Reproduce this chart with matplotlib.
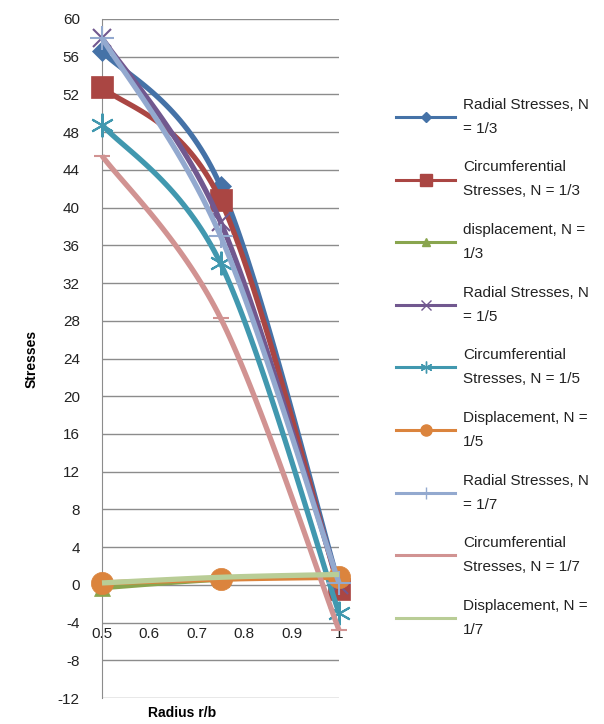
import matplotlib.pyplot as plt
import numpy as np

# Datos
radio = [0.5, 0.75, 1.0]

radial_n3 = [56.6, 42.3, 0.0]
circ_n3 = [52.8, 40.8, -0.4]
disp_n3 = [-0.3, 0.6, 1.0]
radial_n5 = [58.0, 38.5, 0.0]
circ_n5 = [48.8, 34.1, -3.0]
disp_n5 = [0.2, 0.6, 0.8]
radial_n7 = [58.0, 37.0, 0.2]
circ_n7 = [45.5, 28.3, -4.8]
disp_n7 = [0.2, 0.8, 1.1]

etiquetas = [
    "Radial Stresses, N\n= 1/3",
    "Circumferential\nStresses, N = 1/3",
    "displacement, N =\n1/3",
    "Radial Stresses, N\n= 1/5",
    "Circumferential\nStresses, N = 1/5",
    "Displacement, N =\n1/5",
    "Radial Stresses, N\n= 1/7",
    "Circumferential\nStresses, N = 1/7",
    "Displacement, N =\n1/7",
]
series = [radial_n3, circ_n3, disp_n3, radial_n5, circ_n5, disp_n5,
          radial_n7, circ_n7, disp_n7]
colores = ["#4572A7", "#AA4643", "#89A54E", "#71588F", "#4198AF",
           "#DB843D", "#93A9CF", "#D19392", "#B9CD96"]
marcadores = ["D", "s", "^", "x", (6, 2, 0), "o", "+", "_", None]
tam_marc = [10, 16, 11, 13, 17, 16, 17, 11, 0]


# Curva suavizada tipo Excel (Catmull-Rom con tension 1/6)
def suavizar(xs, ys, n=40):
    p = np.column_stack([xs, ys]).astype(float)
    pts = np.vstack([p[0], p, p[-1]])
    salida = []
    for i in range(1, len(pts) - 2):
        p0, p1, p2, p3 = pts[i - 1], pts[i], pts[i + 1], pts[i + 2]
        c1 = p1 + (p2 - p0) / 6
        c2 = p2 - (p3 - p1) / 6
        t = np.linspace(0, 1, n)[:, None]
        b = ((1 - t) ** 3) * p1 + 3 * ((1 - t) ** 2) * t * c1 + 3 * (1 - t) * t ** 2 * c2 + t ** 3 * p2
        salida.append(b)
    r = np.vstack(salida)
    return r[:, 0], r[:, 1]


plt.rcParams['font.family'] = ['Liberation Sans', 'DejaVu Sans']
plt.rcParams['axes.unicode_minus'] = False

fig = plt.figure(figsize=(6.04, 7.24), dpi=100)
ax = fig.add_axes([102 / 604, 1 - 698 / 724, 237 / 604, 679 / 724])

for i in range(len(series)):
    sx, sy = suavizar(radio, series[i])
    ax.plot(sx, sy, color=colores[i], lw=3.8, solid_capstyle='butt',
            zorder=3 + i, clip_on=False)
    if marcadores[i] is not None:
        ax.plot(radio, series[i], linestyle='none', marker=marcadores[i],
                markersize=tam_marc[i], color=colores[i],
                markeredgewidth=1.5 if marcadores[i] in ("x", "+", "_", (6, 2, 0)) else 0.5,
                zorder=3 + i, clip_on=False)
    # entrada de la leyenda
    ax.plot([], [], color=colores[i], lw=2.2,
            marker=marcadores[i] if marcadores[i] is not None else None,
            markersize=max(tam_marc[i] * 0.5, 1), markeredgewidth=1,
            label=etiquetas[i])

ax.set_xlim(0.5, 1.0)
ax.set_ylim(-12, 60)
ax.set_yticks(np.arange(-12, 61, 4))
ax.set_xticks([0.5, 0.6, 0.7, 0.8, 0.9, 1.0])
ax.set_xticklabels(["0.5", "0.6", "0.7", "0.8", "0.9", "1"])
ax.grid(axis='y', color='#8c8c8c', lw=1)
ax.set_axisbelow(True)

for lado in ['top', 'right', 'bottom']:
    ax.spines[lado].set_visible(False)
ax.spines['left'].set_color('#8c8c8c')
ax.spines['bottom'].set_position(('data', 0))
ax.tick_params(axis='x', length=0, pad=30, labelsize=11, colors='#222222')
ax.tick_params(axis='y', length=0, pad=16, labelsize=11, colors='#222222')

ax.set_ylabel("Stresses", fontsize=10, fontweight='bold', labelpad=14)
fig.text(182 / 604, 1 - 713 / 724, "Radius r/b", fontsize=10, fontweight='bold',
         ha='center', va='center')

leg = ax.legend(loc='upper left', bbox_to_anchor=(382 / 604, 1 - 84 / 724),
                bbox_transform=fig.transFigure, frameon=False, fontsize=11,
                handlelength=3.9, handletextpad=0.5, labelspacing=1.62)
for txt in leg.get_texts():
    txt.set_linespacing(1.9)
    txt.set_color('#222222')

fig.savefig("out.png", dpi=100)
